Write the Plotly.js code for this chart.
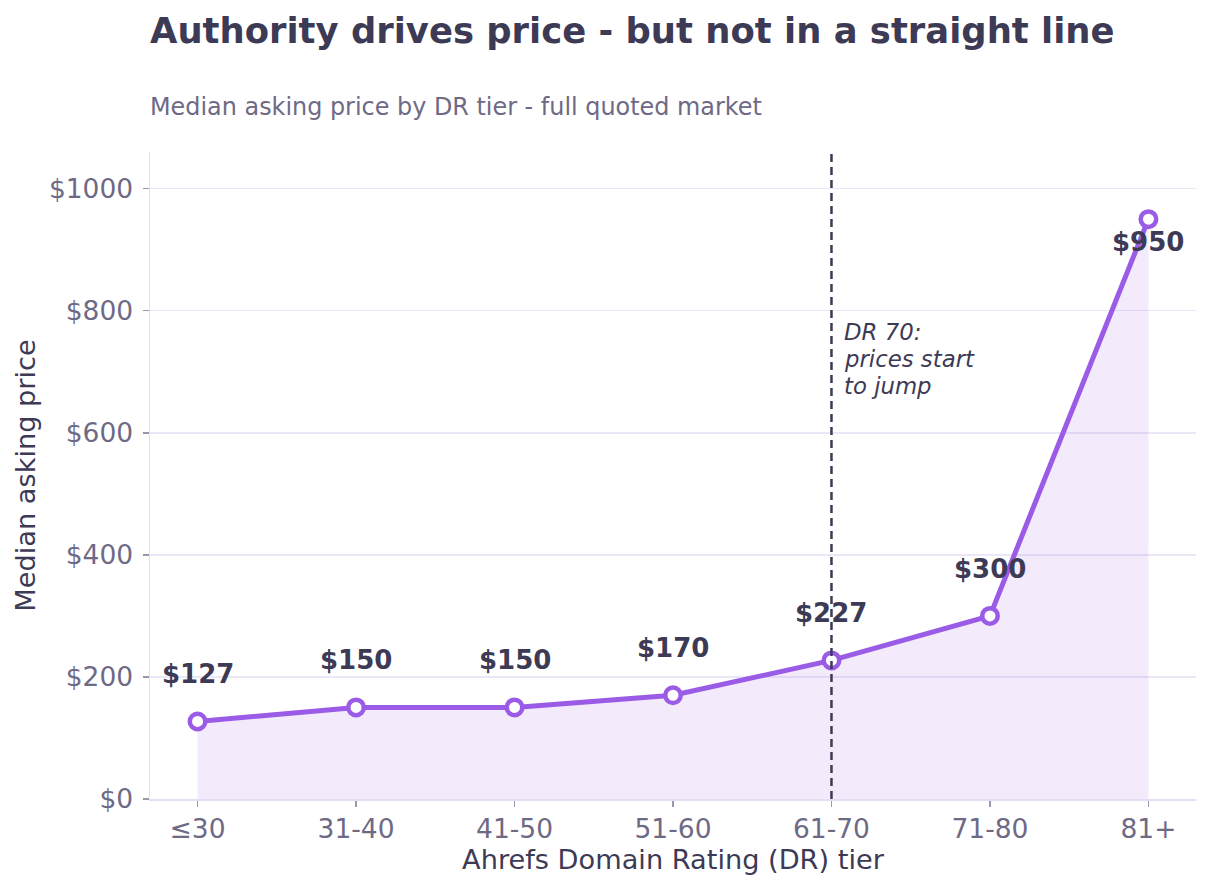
<!DOCTYPE html>
<html>
<head>
<meta charset="utf-8">
<script src="https://cdn.plot.ly/plotly-3.0.1.min.js"></script>
<style>
  html, body { margin: 0; padding: 0; background: #ffffff; }
  #chart { width: 1211px; height: 889px; }
</style>
</head>
<body>
<div id="chart"></div>
<script>
// DR tiers and the median asking price in each
const tiers = ["≤30", "31-40", "41-50", "51-60", "61-70", "71-80", "81+"];
const medianPrice = [127, 150, 150, 170, 227, 300, 950];
const yTicks = [0, 200, 400, 600, 800, 1000];
const yTickText = ["$0", "$200", "$400", "$600", "$800", "$1000"];
const thresholdTier = "61-70";
const thresholdNote = ["DR 70:", "prices start", "to jump"];

const FONT = "DejaVu Sans, Verdana, sans-serif";
const INK = "#3d3a55";
const MUTED = "#6e6a85";
const PURPLE = "#9a5be6";
const GRID = "#ebe7f6";

const xIdx = tiers.map((_, i) => i);
const xThreshold = tiers.indexOf(thresholdTier);

const trace = {
  x: xIdx,
  y: medianPrice,
  type: "scatter",
  mode: "lines+markers",
  fill: "tozeroy",
  fillcolor: "rgba(154,91,230,0.12)",
  line: { color: PURPLE, width: 5 },
  marker: { size: 15.5, color: "#ffffff", line: { color: PURPLE, width: 4.5 } },
  hoverinfo: "skip",
  cliponaxis: false
};

// Value labels: above each point, except the top tier which sits below it
const valueLabels = medianPrice.map((v, i) => ({
  x: i, y: v, xref: "x", yref: "y",
  text: "$" + v,
  showarrow: false,
  xanchor: "center", yanchor: "middle",
  yshift: i === medianPrice.length - 1 ? -23 : 47,
  font: { family: FONT, size: 26, color: INK, weight: "bold" }
}));

// Note beside the threshold line, one annotation per line of text
const noteLines = thresholdNote.map((line, k) => ({
  xref: "x", yref: "y",
  x: xThreshold, y: 721,
  xanchor: "left", yanchor: "middle",
  xshift: 11, yshift: 27 - 27 * k,
  text: "<i>" + line + "</i>",
  showarrow: false,
  font: { family: FONT, size: 22.8, color: INK }
}));

const layout = {
  width: 1211,
  height: 889,
  paper_bgcolor: "#ffffff",
  plot_bgcolor: "#ffffff",
  margin: { l: 150, r: 15, t: 152, b: 90 },
  showlegend: false,
  title: {
    text: "<b>Authority drives price - but not in a straight line</b>",
    font: { family: FONT, size: 35.4, color: INK },
    xref: "container", x: 150 / 1211, xanchor: "left",
    yref: "container", y: 1 - 31 / 889, yanchor: "middle"
  },
  xaxis: {
    range: [-0.3, 6.3],
    tickmode: "array",
    tickvals: xIdx,
    ticktext: tiers,
    ticks: "outside",
    ticklen: 6,
    tickwidth: 1.5,
    tickcolor: "#9a97ab",
    tickfont: { family: FONT, size: 26.5, color: MUTED },
    showgrid: false,
    zeroline: false,
    showline: true,
    linecolor: "#e4def4",
    linewidth: 1.5,
    title: {
      text: "Ahrefs Domain Rating (DR) tier",
      font: { family: FONT, size: 27.2, color: INK },
      standoff: 6
    }
  },
  yaxis: {
    range: [0, 1060],
    tickmode: "array",
    tickvals: yTicks,
    ticktext: yTickText,
    ticks: "outside",
    ticklen: 6,
    tickwidth: 1.5,
    tickcolor: "#9a97ab",
    ticklabelstandoff: 4,
    tickfont: { family: FONT, size: 26.5, color: MUTED },
    showgrid: true,
    gridcolor: GRID,
    gridwidth: 1.5,
    zeroline: false,
    showline: true,
    linecolor: "#e4def4",
    linewidth: 1.5,
    title: {
      text: "Median asking price",
      font: { family: FONT, size: 27.2, color: INK },
      standoff: 5
    }
  },
  shapes: [{
    type: "line",
    xref: "x", yref: "paper",
    x0: xThreshold, x1: xThreshold,
    y0: 0, y1: 1,
    line: { color: INK, width: 2.5, dash: "8px,5px" },
    layer: "above"
  }],
  annotations: [
    {
      xref: "paper", yref: "paper",
      x: 0, y: 1 + (152 - 107) / 647,
      xanchor: "left", yanchor: "middle",
      xshift: -2,
      text: "Median asking price by DR tier - full quoted market",
      showarrow: false,
      font: { family: FONT, size: 23.9, color: MUTED }
    }
  ].concat(noteLines, valueLabels)
};

Plotly.newPlot("chart", [trace], layout, { displayModeBar: false, staticPlot: true });
</script>
</body>
</html>
